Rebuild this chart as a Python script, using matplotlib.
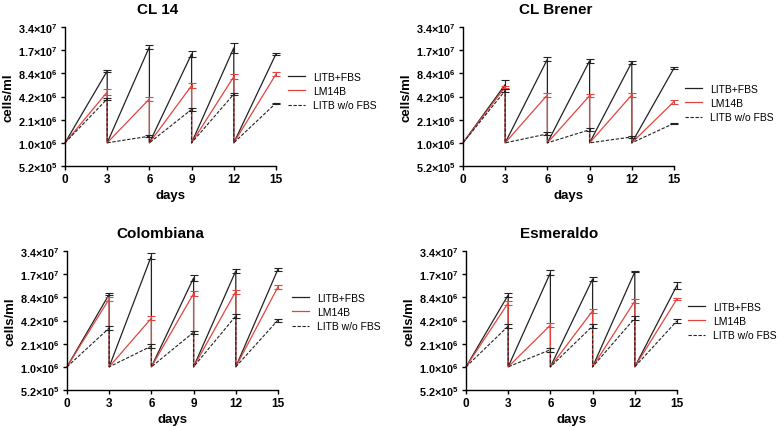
import numpy as np
import matplotlib
matplotlib.use("Agg")
import matplotlib.pyplot as plt
from matplotlib.lines import Line2D

plt.rcParams["font.family"] = ["Liberation Sans", "DejaVu Sans"]
plt.rcParams["mathtext.fontset"] = "custom"
plt.rcParams["mathtext.rm"] = "Liberation Sans:bold"
plt.rcParams["mathtext.bf"] = "Liberation Sans:bold"

# ── data (cells/ml at the end of each 3-day passage) ─────────────────────────
days = [0, 3, 6, 9, 12, 15]
START = 2 ** 20   # seeding density, re-diluted every 3 days

cl14_fbs = [9.0e6, 1.85e7, 1.5e7, 1.8e7, 1.5e7]
cl14_fbs_sd = [0.3e6, 0.9e6, 1.2e6, 2.5e6, 0.5e6]
cl14_lm = [4.8e6, 3.9e6, 5.8e6, 7.6e6, 8.2e6]
cl14_lm_sd = [0.4e6, 0.25e6, 0.45e6, 0.6e6, 0.55e6]
cl14_nofbs = [3.9e6, 1.28e6, 2.85e6, 4.5e6, 3.45e6]
cl14_nofbs_sd = [0.15e6, 0.04e6, 0.1e6, 0.1e6, 0.05e6]

clb_fbs = [6.0e6, 1.28e7, 1.22e7, 1.17e7, 9.8e6]
clb_fbs_sd = [0.8e6, 0.7e6, 0.7e6, 0.6e6, 0.2e6]
clb_lm = [5.6e6, 4.4e6, 4.3e6, 4.4e6, 3.6e6]
clb_lm_sd = [0.15e6, 0.25e6, 0.2e6, 0.25e6, 0.2e6]
clb_nofbs = [5.0e6, 1.37e6, 1.55e6, 1.25e6, 1.88e6]
clb_nofbs_sd = [0.25e6, 0.06e6, 0.07e6, 0.05e6, 0.02e6]

col_fbs = [9.2e6, 2.9e7, 1.5e7, 1.85e7, 1.95e7]
col_fbs_sd = [0.3e6, 2.5e6, 1.5e6, 1.0e6, 0.8e6]
col_lm = [8.0e6, 4.5e6, 9.4e6, 1.0e7, 1.15e7]
col_lm_sd = [0.5e6, 0.25e6, 0.6e6, 0.6e6, 0.6e6]
col_nofbs = [3.35e6, 1.95e6, 2.95e6, 4.8e6, 4.25e6]
col_nofbs_sd = [0.2e6, 0.1e6, 0.15e6, 0.3e6, 0.2e6]

esm_fbs = [9.0e6, 1.75e7, 1.45e7, 1.8e7, 1.2e7]
esm_fbs_sd = [0.5e6, 1.3e6, 1.0e6, 0.2e6, 1.3e6]
esm_lm = [7.1e6, 3.65e6, 5.6e6, 7.5e6, 8.0e6]
esm_lm_sd = [0.5e6, 0.2e6, 0.35e6, 0.4e6, 0.3e6]
esm_nofbs = [3.55e6, 1.75e6, 3.55e6, 4.5e6, 4.15e6]
esm_nofbs_sd = [0.2e6, 0.1e6, 0.2e6, 0.25e6, 0.2e6]

ytick_vals = [2 ** k for k in range(19, 26)]
ytick_labels = ["5.2×10^5", "1.0×10^6", "2.1×10^6", "4.2×10^6",
                "8.4×10^6", "1.7×10^7", "3.4×10^7"]

series_names = ["LITB+FBS", "LM14B", "LITB w/o FBS"]
RED = "#e2453f"

# title, series, sds, axes top-left (px), legend anchor (px)
panels = [
    ("CL 14", [cl14_fbs, cl14_lm, cl14_nofbs], [cl14_fbs_sd, cl14_lm_sd, cl14_nofbs_sd],
     (65, 28), (288, 92)),
    ("CL Brener", [clb_fbs, clb_lm, clb_nofbs], [clb_fbs_sd, clb_lm_sd, clb_nofbs_sd],
     (463, 28), (685, 104)),
    ("Colombiana", [col_fbs, col_lm, col_nofbs], [col_fbs_sd, col_lm_sd, col_nofbs_sd],
     (67, 252), (292, 313)),
    ("Esmeraldo", [esm_fbs, esm_lm, esm_nofbs], [esm_fbs_sd, esm_lm_sd, esm_nofbs_sd],
     (466, 252), (688, 322)),
]

W, H = 778, 427
fig = plt.figure(figsize=(W / 100, H / 100), dpi=100)

styles = [dict(color="#222222", lw=0.9, ls="-"),
          dict(color=RED, lw=0.9, ls="-"),
          dict(color="#222222", lw=0.8, ls=(0, (3, 1.5)))]


def fmt(lbl):
    m, e = lbl.split("^")
    m = m.replace("×", r"{\times}")
    return r"$\mathbf{" + m + "^{" + e + "}}$"


for title, vals, sds, (px, py), (lx, ly) in panels:
    ax = fig.add_axes([px / W, 1 - (py + 139) / H, 211 / W, 139 / H])
    n = len(vals[0])
    for v, sd, st in zip(vals, sds, styles):
        xs, ys = [days[0]], [START]
        for i, d in enumerate(days[1:]):
            if i < n - 1:
                xs += [d, d]
                ys += [v[i], START]
            else:
                xs.append(d)
                ys.append(v[i])
        ax.plot(xs, ys, color=st["color"], lw=st["lw"], ls=st["ls"], clip_on=False)
        ax.errorbar(days[1:], v, yerr=sd, fmt="none", ecolor=st["color"],
                    elinewidth=0.8, capsize=3, capthick=0.8, clip_on=False)

    ax.set_yscale("log", base=2)
    ax.set_ylim(2 ** 19, 2 ** 25)
    ax.set_xlim(0, 15)
    ax.set_yticks(ytick_vals)
    ax.set_yticklabels([fmt(t) for t in ytick_labels], fontsize=7.8)
    ax.yaxis.set_minor_locator(matplotlib.ticker.NullLocator())
    ax.set_xticks(days)
    ax.set_xticklabels([str(d) for d in days], fontsize=8.5, fontweight="bold")
    for s in ["top", "right"]:
        ax.spines[s].set_visible(False)
    for s in ["left", "bottom"]:
        ax.spines[s].set_linewidth(1.0)
    ax.tick_params(length=3, width=1.0, pad=2)
    ax.set_xlabel("days", fontsize=9.5, fontweight="bold", labelpad=3)
    ax.set_ylabel("cells/ml", fontsize=9.5, fontweight="bold", labelpad=3)
    ax.set_title(title, fontsize=11, fontweight="bold", pad=10, x=0.44)

    handles = [Line2D([], [], **st) for st in styles]
    fig.legend(handles, series_names, loc="center left",
               bbox_to_anchor=(lx / W, 1 - ly / H), borderpad=0, borderaxespad=0,
               frameon=False, fontsize=7.5, handlelength=1.65, handletextpad=0.75,
               labelspacing=0.42)

fig.savefig("out.png", dpi=100)
